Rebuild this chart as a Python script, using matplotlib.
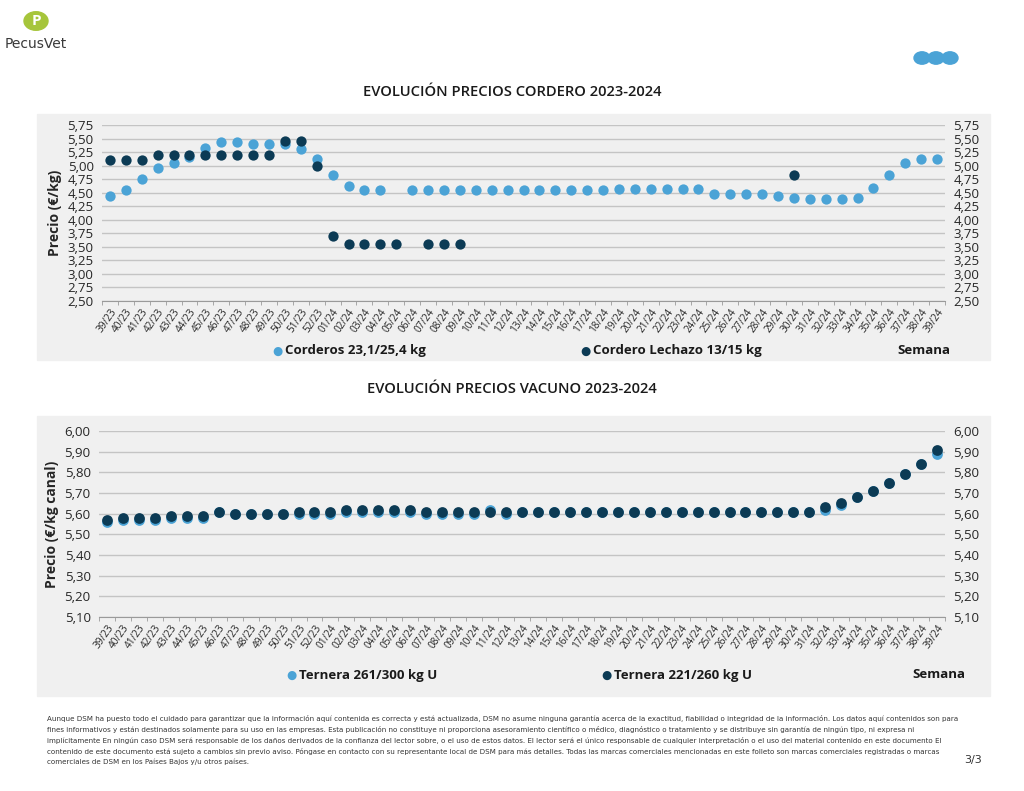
#!/usr/bin/env python3
import matplotlib.pyplot as plt
import numpy as np
from matplotlib.patches import Rectangle, Circle

nan = np.nan

weeks = ['%02d/23' % w for w in range(39, 53)] + ['%02d/24' % w for w in range(1, 40)]

# Cordero (€/kg)
corderos = [4.43, 4.55, 4.75, 4.95, 5.05, 5.15, 5.32, 5.43, 5.43, 5.40, 5.40, 5.40, 5.30, 5.13,
            4.83, 4.63, 4.55, 4.55, nan, 4.55, 4.55, 4.55, 4.55, 4.55, 4.55, 4.55, 4.55, 4.55,
            4.55, 4.55, 4.55, 4.55, 4.57, 4.57, 4.57, 4.57, 4.57, 4.57, 4.47, 4.47, 4.47, 4.47,
            4.43, 4.40, 4.38, 4.38, 4.38, 4.40, 4.58, 4.83, 5.05, 5.12, 5.12]
lechazo = [5.10, 5.10, 5.10, 5.20, 5.20, 5.20, 5.20, 5.20, 5.20, 5.20, 5.20, 5.45, 5.45, 5.00,
           3.70, 3.55, 3.55, 3.55, 3.55, nan, 3.55, 3.55, 3.55, nan, nan, nan, nan, nan,
           nan, nan, nan, nan, nan, nan, nan, nan, nan, nan, nan, nan, nan, nan,
           nan, 4.83, nan, nan, nan, nan, nan, nan, nan, nan, nan]

# Vacuno (€/kg canal)
ternera_261 = [5.56, 5.57, 5.57, 5.57, 5.58, 5.58, 5.58, 5.61, 5.60, 5.60, 5.60, 5.60, 5.60, 5.60,
               5.60, 5.61, 5.61, 5.61, 5.61, 5.61, 5.60, 5.60, 5.60, 5.60, 5.62, 5.60, 5.61, 5.61,
               5.61, 5.61, 5.61, 5.61, 5.61, 5.61, 5.61, 5.61, 5.61, 5.61, 5.61, 5.61, 5.61, 5.61,
               5.61, 5.61, 5.61, 5.62, 5.64, 5.68, 5.71, 5.75, 5.79, 5.84, 5.89]
ternera_221 = [5.57, 5.58, 5.58, 5.58, 5.59, 5.59, 5.59, 5.61, 5.60, 5.60, 5.60, 5.60, 5.61, 5.61,
               5.61, 5.62, 5.62, 5.62, 5.62, 5.62, 5.61, 5.61, 5.61, 5.61, 5.61, 5.61, 5.61, 5.61,
               5.61, 5.61, 5.61, 5.61, 5.61, 5.61, 5.61, 5.61, 5.61, 5.61, 5.61, 5.61, 5.61, 5.61,
               5.61, 5.61, 5.61, 5.63, 5.65, 5.68, 5.71, 5.75, 5.79, 5.84, 5.91]

cordero_ticks = [2.50, 2.75, 3.00, 3.25, 3.50, 3.75, 4.00, 4.25, 4.50, 4.75, 5.00, 5.25, 5.50, 5.75]
vacuno_ticks = [5.10, 5.20, 5.30, 5.40, 5.50, 5.60, 5.70, 5.80, 5.90, 6.00]

LIGHT = '#4ba3d6'
DARK = '#0c3b55'
PANEL = '#f0f0f0'
GRID = '#c4c4c4'
TXT = '#262626'
NARROW = ['Liberation Sans Narrow', 'DejaVu Sans']

plt.rcParams['font.family'] = ['Open Sans', 'DejaVu Sans']

fig = plt.figure(figsize=(10.24, 7.91), dpi=100)
W, H = 1024.0, 791.0


def fx(px):
    return px / W


def fy(py):
    return 1 - py / H


# grey panels behind the charts
fig.patches.append(Rectangle((fx(37), fy(360)), fx(990 - 37), (360 - 114) / H,
                             transform=fig.transFigure, color=PANEL, zorder=-5))
fig.patches.append(Rectangle((fx(37), fy(696)), fx(990 - 37), (696 - 416) / H,
                             transform=fig.transFigure, color=PANEL, zorder=-5))


def style_axes(ax, yticks, ylabel):
    x = np.arange(len(weeks))
    ax.set_facecolor('none')
    ax.set_xlim(-0.5, len(weeks) - 0.5)
    ax.set_ylim(yticks[0], yticks[-1])
    ax.set_yticks(yticks)
    ax.set_yticklabels([('%.2f' % v).replace('.', ',') for v in yticks])
    ax.yaxis.grid(True, color=GRID, linewidth=1)
    ax.set_axisbelow(True)
    ax.set_xticks(x)
    ax.set_xticklabels(weeks, rotation=55, ha='right', rotation_mode='anchor', fontsize=7.2)
    ax.set_xticks(np.arange(-0.5, len(weeks)), minor=True)
    ax.tick_params(axis='x', which='major', length=0, pad=4, colors=TXT)
    ax.tick_params(axis='x', which='minor', length=3, color='#9a9a9a')
    ax.tick_params(axis='y', length=0, labelsize=9.5, colors=TXT, labelright=True, pad=6)
    for s in ['top', 'left', 'right']:
        ax.spines[s].set_visible(False)
    ax.spines['bottom'].set_color('#9a9a9a')
    ax.set_ylabel(ylabel, fontsize=10, fontweight='bold', color=TXT, labelpad=4)


xi = np.arange(len(weeks))

# ---- Cordero ----
ax1 = fig.add_axes([fx(102), fy(301), fx(945 - 102), (301 - 125) / H])
style_axes(ax1, cordero_ticks, 'Precio (€/kg)')
ax1.scatter(xi, corderos, s=55, color=LIGHT, zorder=3, linewidths=0)
ax1.scatter(xi, lechazo, s=55, color=DARK, zorder=4, linewidths=0)

# ---- Vacuno ----
ax2 = fig.add_axes([fx(99), fy(617), fx(945 - 99), (617 - 431) / H])
style_axes(ax2, vacuno_ticks, 'Precio (€/kg canal)')
ax2.scatter(xi, ternera_261, s=60, color=LIGHT, zorder=3, linewidths=0)
ax2.scatter(xi, ternera_221, s=60, color=DARK, zorder=4, linewidths=0)

# titles
fig.text(0.5, fy(92), 'EVOLUCIÓN PRECIOS CORDERO 2023-2024', ha='center', va='center',
         fontsize=10.6, fontweight='semibold', color='#1a1a1a')
fig.text(0.5, fy(389), 'EVOLUCIÓN PRECIOS VACUNO 2023-2024', ha='center', va='center',
         fontsize=10.6, fontweight='semibold', color='#1a1a1a')


# legends drawn as text rows
def legend_item(xp, yp, color, label):
    fig.text(fx(xp), fy(yp), '●', color=color, fontsize=8.5, ha='left', va='center',
             family='DejaVu Sans')
    fig.text(fx(xp + 13), fy(yp), label, color='#1a1a1a', fontsize=9.5,
             fontweight='bold', ha='left', va='center')


legend_item(272, 351, LIGHT, 'Corderos 23,1/25,4 kg')
legend_item(580, 351, DARK, 'Cordero Lechazo 13/15 kg')
fig.text(fx(950), fy(350), 'Semana', fontsize=9.5, fontweight='bold', color='#1a1a1a',
         ha='right', va='center')
legend_item(286, 675, LIGHT, 'Ternera 261/300 kg U')
legend_item(601, 675, DARK, 'Ternera 221/260 kg U')
fig.text(fx(965), fy(675), 'Semana', fontsize=9.5, fontweight='bold', color='#1a1a1a',
         ha='right', va='center')

# logo top left
fig.patches.append(Circle((fx(36), fy(21)), 12 / W, transform=fig.transFigure,
                          color='#a6c53b', zorder=2))
fig.text(fx(36), fy(21), 'P', color='white', fontsize=11, fontweight='bold',
         ha='center', va='center')
fig.text(fx(36), fy(44), 'PecusVet', color='#3a3a3a', fontsize=10,
         ha='center', va='center', family=NARROW)

# three circles top right
for cx in [922, 936, 950]:
    fig.patches.append(Circle((fx(cx), fy(58)), 8 / W, transform=fig.transFigure,
                              color='#4ba3d6', zorder=2))

footer = [
    'Aunque DSM ha puesto todo el cuidado para garantizar que la información aquí contenida es correcta y está actualizada, DSM no asume ninguna garantía acerca de la exactitud, fiabilidad o integridad de la información. Los datos aquí contenidos son para',
    'fines informativos y están destinados solamente para su uso en las empresas. Esta publicación no constituye ni proporciona asesoramiento científico o médico, diagnóstico o tratamiento y se distribuye sin garantía de ningún tipo, ni expresa ni',
    'implícitamente En ningún caso DSM será responsable de los daños derivados de la confianza del lector sobre, o el uso de estos datos. El lector será el único responsable de cualquier interpretación o el uso del material contenido en este documento El',
    'contenido de este documento está sujeto a cambios sin previo aviso. Póngase en contacto con su representante local de DSM para más detalles. Todas las marcas comerciales mencionadas en este folleto son marcas comerciales registradas o marcas',
    'comerciales de DSM en los Países Bajos y/u otros países.',
]
for i, line in enumerate(footer):
    fig.text(fx(47), fy(719 + i * 10.8), line, fontsize=5.15, color='#333333',
             ha='left', va='center', family=NARROW)
fig.text(fx(982), fy(760), '3/3', fontsize=8, color='#333333', ha='right', va='center',
         family=NARROW)

fig.savefig('out.png', dpi=100, facecolor='white')
